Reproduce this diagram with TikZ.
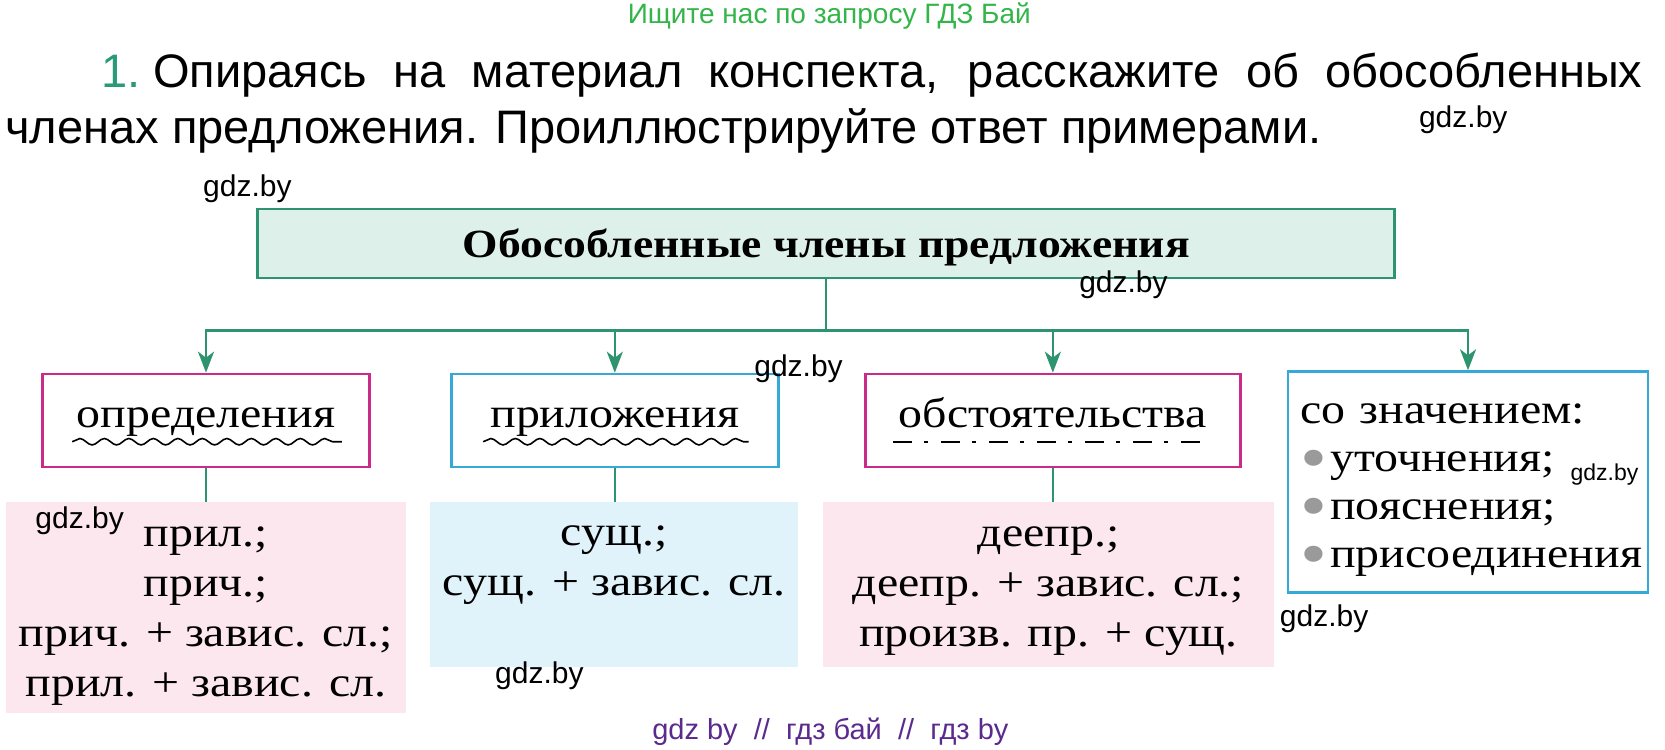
\documentclass[tikz,border=0pt]{standalone}
\usepackage{fontspec}
\setmainfont{Liberation Serif}[FakeStretch=1.14]
\newfontfamily\sansfont{Liberation Sans}
\usetikzlibrary{arrows.meta,decorations.pathmorphing,calc}
\definecolor{linegreen}{HTML}{2E9470}
\definecolor{headfill}{HTML}{DDF1EA}
\definecolor{boxmagenta}{HTML}{CC2A8A}
\definecolor{boxcyan}{HTML}{36AAD6}
\definecolor{pinkfill}{HTML}{FCE7EF}
\definecolor{bluefill}{HTML}{E0F2FA}
\definecolor{topgreen}{HTML}{33B54A}
\definecolor{numgreen}{HTML}{2A9A78}
\definecolor{footpurple}{HTML}{5A2A8E}
\definecolor{dotgray}{HTML}{9A9A9A}
\newcommand{\bigserif}{\fontsize{42}{50}\selectfont}
\newcommand{\dotitem}{{\color{dotgray}\smash{\raisebox{-9pt}{\scalebox{1.6}{\textbullet}}}}\kern3pt}
\newcommand{\topgap}[1]{\rule{0pt}{#1}}
\begin{document}
\begin{tikzpicture}[x=1.0619pt,y=-1.0619pt]
  \tikzstyle{every node}=[inner sep=0pt]
  \tikzstyle{catbox}=[draw,line width=2.6pt,fill=white,font=\bigserif,text height=22pt,text depth=8pt]
  \tikzstyle{formbox}=[font=\bigserif,align=center]
  \tikzstyle{wire}=[draw=linegreen,line width=2.6pt]
  \tikzstyle{wmark}=[font=\sansfont\fontsize{30}{32}\selectfont]
  \useasboundingbox (0,0) rectangle (1568,706);
  % header texts
  \node (search) at (781,15) {\sansfont\fontsize{28}{30}\selectfont\color{topgreen}Ищите нас по запросу ГДЗ Бай};
  \node[anchor=west,font=\sansfont\fontsize{47}{55}\selectfont] (taskA) at (95,71)
        {{\color{numgreen}1.}\ \makebox[1489pt][s]{Опираясь на материал конспекта, расскажите об обособленных}};
  \node[anchor=west,font=\sansfont\fontsize{47}{55}\selectfont] (taskB) at (5,123)
        {членах предложения. Проиллюстрируйте ответ примерами.};
  % scheme
  \node[draw=linegreen,line width=2.6pt,fill=headfill,minimum width=1137pt,minimum height=69pt,
        text height=36pt,text depth=8pt,
        font=\bfseries\fontsize{40}{44}\selectfont] (head) at (778,229.5) {Обособленные члены предложения};
  \node[catbox,draw=boxmagenta,minimum width=327pt,minimum height=93pt] (opr) at (194,396) {определения};
  \node[catbox,draw=boxcyan,minimum width=327pt,minimum height=93pt] (pril) at (579,396) {приложения};
  \node[catbox,draw=boxmagenta,minimum width=375pt,minimum height=93pt] (obst) at (991.5,396) {обстоятельства};
  \node[draw=boxcyan,line width=2.6pt,fill=white,minimum width=360pt,minimum height=221pt,align=left,
        text width=335pt,font=\fontsize{42}{48}\selectfont] (znach) at (1382.5,454)
        {\topgap{36pt}со значением:\\\dotitem уточнения;\\\dotitem пояснения;\\\dotitem присоединения};
  \node[formbox,fill=pinkfill,minimum width=401pt,minimum height=211pt] (oprform) at (194,572.5)
        {\topgap{37pt}прил.;\\прич.;\\прич. + завис. сл.;\\прил. + завис. сл.};
  \node[formbox,fill=bluefill,minimum width=368pt,minimum height=165pt] (prilform) at (578.5,550.5)
        {\topgap{36pt}сущ.;\\сущ. + завис. сл.\\\strut};
  \node[formbox,fill=pinkfill,minimum width=451pt,minimum height=165pt] (obstform) at (987.5,550.5)
        {\topgap{32pt}деепр.;\\деепр. + завис. сл.;\\произв. пр. + сущ.};
  % underlines
  \draw[decorate,decoration={snake,amplitude=3.2pt,segment length=24.5pt},line width=1.6pt]
        ($(opr.center)+(-126,20)$) -- ($(opr.center)+(128,20)$);
  \draw[decorate,decoration={snake,amplitude=3.2pt,segment length=24.5pt},line width=1.6pt]
        ($(pril.center)+(-124,20)$) -- ($(pril.center)+(126,20)$);
  \draw[line width=2.2pt,dash pattern=on 19pt off 12pt on 3.5pt off 13.5pt]
        ($(obst.center)+(-150.5,20)$) -- ($(obst.center)+(141.5,20)$);
  % connectors
  \coordinate (hub) at (778,311);
  \path[wire] (head.south) -- (hub);
  \foreach \dest in {opr,pril,obst,znach}
    \path[wire,-{Stealth[length=21pt,width=16pt,inset=6pt]}] (hub) -| (\dest.north);
  \foreach \cat/\form in {opr/oprform,pril/prilform,obst/obstform}
    \path[wire,line width=2pt] (\cat.south) -- (\cat.south |- \form.north);
  % watermarks
  \node[wmark] (wm1) at (233,178) {gdz.by};
  \node[wmark] (wm2) at (1378,113) {gdz.by};
  \node[wmark] (wm3) at (1058,268) {gdz.by};
  \node[wmark] (wm4) at (752,347) {gdz.by};
  \node[wmark] (wm5) at (75,490) {gdz.by};
  \node[wmark,font=\sansfont\fontsize{23}{25}\selectfont] (wm6) at (1511,447) {gdz.by};
  \node[wmark] (wm7) at (1247,583) {gdz.by};
  \node[wmark] (wm8) at (508,636) {gdz.by};
  \node (foot) at (782,689) {\sansfont\fontsize{29}{31}\selectfont\color{footpurple}gdz by\ \ //\ \ гдз бай\ \ //\ \ гдз by};
\end{tikzpicture}
\end{document}
